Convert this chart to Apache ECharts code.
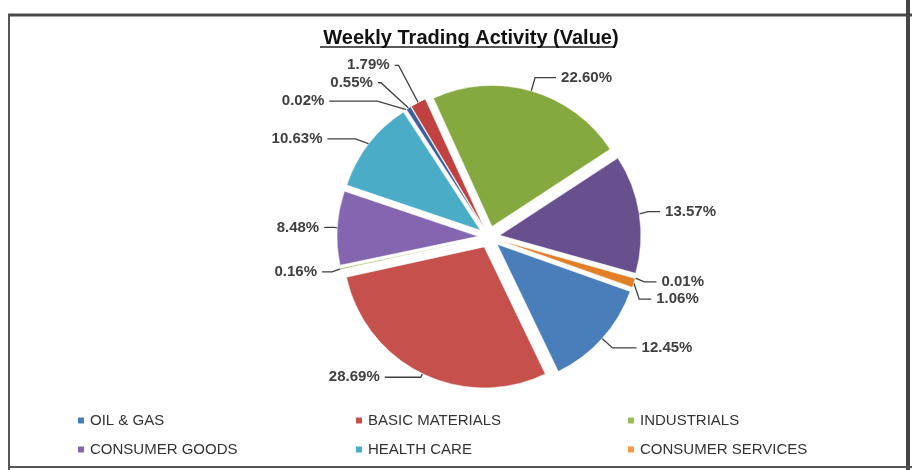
<!DOCTYPE html>
<html>
<head>
<meta charset="utf-8">
<script src="https://cdn.jsdelivr.net/npm/echarts@6/dist/echarts.min.js"></script>
<style>
  html, body { margin: 0; padding: 0; background: #fff; }
  #chart { width: 922px; height: 470px; }
</style>
</head>
<body>
<div id="chart"></div>
<script>
// sectors in drawing order (clockwise from the Oil & Gas slice)
const sectors = [
  "OIL & GAS", "BASIC MATERIALS", "INDUSTRIALS", "CONSUMER GOODS",
  "HEALTH CARE", "CONSUMER SERVICES", "TELECOMMUNICATIONS", "UTILITIES",
  "FINANCIALS", "TECHNOLOGY", "ETF", "OTHERS"
];
// share of weekly traded value, %
const shares = [12.45, 28.69, 0.16, 8.48, 10.63, 0.02, 0.55, 1.79, 22.60, 13.57, 0.01, 1.06];

// legend entries shown in the picture (two rows of three)
const legendCols = [
  ["OIL & GAS", "CONSUMER GOODS"],
  ["BASIC MATERIALS", "HEALTH CARE"],
  ["INDUSTRIALS", "CONSUMER SERVICES"]
];

const colors = [
  "#4a7ebb", "#c5504c", "#9bbb59", "#8466b0", "#4aacc6", "#f79646",
  "#3d5f9a", "#c0413f", "#86a93f", "#684f8e", "#3e8aa2", "#e2802a"
];

// leader line lengths per slice: [radial part, horizontal part]
const leader = [
  [14, 24], [4, 36], [14, 10], [8, 10], [8, 28], [10, 48],
  [30, 3], [42, 4], [14, 21], [14, 12], [14, 12], [14, 12]
];

const font = "'Liberation Sans', Arial, sans-serif";
const chart = echarts.init(document.getElementById("chart"));

const pieData = sectors.map((name, i) => ({
  name: name,
  value: shares[i],
  selected: true,
  itemStyle: { color: colors[i] },
  labelLine: { length: leader[i][0], length2: leader[i][1] }
}));

const legends = legendCols.map((col, i) => ({
  data: col,
  orient: "vertical",
  left: [71, 349, 621][i],
  top: 407,
  itemWidth: 8,
  itemHeight: 8,
  itemGap: 12,
  icon: "rect",
  selectedMode: false,
  textStyle: { color: "#333", fontSize: 15, fontFamily: font, lineHeight: 17 }
}));

const option = {
  backgroundColor: "#fff",
  animation: false,
  title: {
    text: "Weekly Trading Activity (Value)",
    left: 466,
    textAlign: "center",
    top: 23,
    textStyle: { color: "#111", fontSize: 20, fontWeight: "bold", fontFamily: font }
  },
  legend: legends,
  graphic: [
    { type: "line", shape: { x1: 320, y1: 47, x2: 614, y2: 47 }, style: { stroke: "#222", lineWidth: 1.5 } },
    { type: "line", shape: { x1: 8, y1: 15, x2: 912, y2: 15 }, style: { stroke: "#4a4a4a", lineWidth: 3 } },
    { type: "line", shape: { x1: 9, y1: 15, x2: 9, y2: 470 }, style: { stroke: "#555", lineWidth: 2 } },
    { type: "line", shape: { x1: 908, y1: 0, x2: 908, y2: 470 }, style: { stroke: "#444", lineWidth: 4 } },
    { type: "line", shape: { x1: 8, y1: 467, x2: 912, y2: 467 }, style: { stroke: "#555", lineWidth: 2 } }
  ],
  series: [
    {
      type: "pie",
      center: [489, 237],
      radius: [0, 141],
      startAngle: -19.5,
      clockwise: true,
      selectedMode: "multiple",
      selectedOffset: 11,
      avoidLabelOverlap: true,
      data: pieData,
      itemStyle: { borderColor: "#fff", borderWidth: 0.5 },
      label: {
        show: true,
        position: "outside",
        formatter: p => p.value.toFixed(2) + "%",
        color: "#404040",
        fontSize: 15,
        fontWeight: "bold",
        fontFamily: font
      },
      labelLine: {
        show: true,
        lineStyle: { color: "#404040", width: 1.3 }
      },
      emphasis: { disabled: true }
    }
  ]
};

chart.setOption(option);
</script>
</body>
</html>
